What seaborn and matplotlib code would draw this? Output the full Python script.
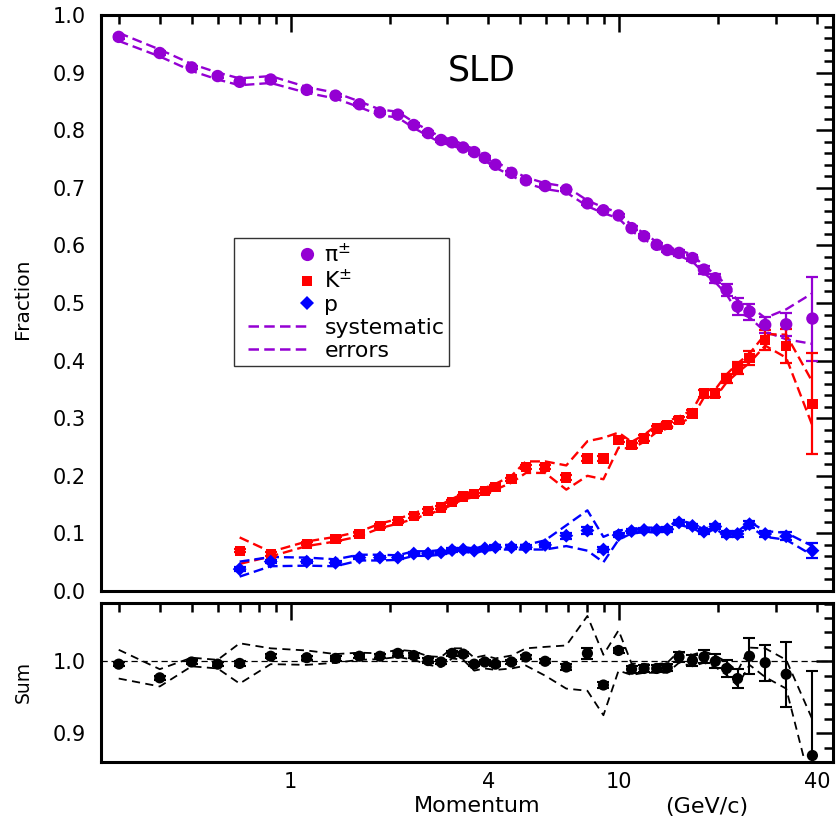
import numpy as np
import matplotlib
matplotlib.use("Agg")
import matplotlib.pyplot as plt
import seaborn as sns
from matplotlib.lines import Line2D
from matplotlib.legend_handler import HandlerBase
from matplotlib.ticker import FixedLocator, MultipleLocator, FuncFormatter, NullFormatter

# ---------------- data ----------------
momentum = [0.30, 0.40, 0.50, 0.60, 0.70, 0.87, 1.12, 1.37, 1.62, 1.87,
            2.12, 2.37, 2.62, 2.87, 3.10, 3.35, 3.62, 3.90, 4.20, 4.70,
            5.20, 5.95, 6.90, 8.00, 8.95, 9.95, 10.9, 11.9, 13.0, 14.0,
            15.2, 16.7, 18.1, 19.6, 21.2, 22.9, 24.9, 27.8, 32.2, 38.7]

pion_frac = [0.962, 0.934, 0.909, 0.894, 0.884, 0.888, 0.870, 0.860, 0.845, 0.831,
             0.827, 0.809, 0.795, 0.783, 0.779, 0.770, 0.762, 0.752, 0.740, 0.726,
             0.713, 0.703, 0.697, 0.673, 0.661, 0.652, 0.630, 0.616, 0.601, 0.592,
             0.587, 0.578, 0.558, 0.543, 0.523, 0.494, 0.485, 0.462, 0.463, 0.473]
pion_stat = [0.003] * 28 + [0.004, 0.004, 0.005, 0.005, 0.007, 0.008,
                            0.010, 0.015, 0.014, 0.014, 0.020, 0.073]
pion_sys = [0.007, 0.006, 0.006, 0.006, 0.006, 0.006, 0.005, 0.005, 0.005, 0.005,
            0.005, 0.005, 0.005, 0.005, 0.005, 0.005, 0.005, 0.005, 0.005, 0.005,
            0.005, 0.005, 0.005, 0.005, 0.005, 0.005, 0.005, 0.005, 0.005, 0.005,
            0.005, 0.006, 0.006, 0.007, 0.008, 0.010, 0.010, 0.012, 0.026, 0.044]

# kaons and protons start at the 0.70 GeV/c bin
kaon_mom = momentum[4:]
kaon_frac = [0.070, 0.064, 0.082, 0.090, 0.099, 0.113,
             0.121, 0.130, 0.139, 0.145, 0.155, 0.164,
             0.168, 0.174, 0.181, 0.194, 0.215, 0.215,
             0.197, 0.230, 0.230, 0.262, 0.253, 0.265,
             0.282, 0.288, 0.297, 0.308, 0.343, 0.343,
             0.369, 0.387, 0.404, 0.436, 0.425, 0.325]
kaon_stat = [0.003] * 18 + [0.004, 0.005, 0.004, 0.004, 0.004, 0.005,
                            0.005, 0.005, 0.005, 0.006, 0.006, 0.006,
                            0.008, 0.010, 0.012, 0.017, 0.029, 0.088]
kaon_sys = [0.023, 0.004, 0.004, 0.004, 0.004, 0.004,
            0.004, 0.005, 0.005, 0.005, 0.005, 0.005,
            0.005, 0.005, 0.005, 0.006, 0.010, 0.010,
            0.021, 0.030, 0.036, 0.013, 0.006, 0.006,
            0.006, 0.006, 0.006, 0.006, 0.007, 0.007,
            0.007, 0.008, 0.008, 0.010, 0.020, 0.038]

proton_mom = momentum[4:]
proton_frac = [0.038, 0.051, 0.051, 0.049, 0.058, 0.058,
               0.058, 0.065, 0.065, 0.067, 0.071, 0.072,
               0.070, 0.074, 0.076, 0.076, 0.076, 0.080,
               0.096, 0.105, 0.072, 0.097, 0.104, 0.106,
               0.106, 0.107, 0.119, 0.113, 0.103, 0.112,
               0.099, 0.099, 0.116, 0.099, 0.095, 0.070]
proton_stat = [0.003] * 18 + [0.005, 0.006, 0.005, 0.004] + [0.004] * 8 + \
              [0.005, 0.005, 0.006, 0.006, 0.007, 0.013]
proton_sys = [0.013, 0.008, 0.007, 0.006, 0.005, 0.005] + [0.004] * 11 + \
             [0.008, 0.018, 0.035, 0.022, 0.008] + [0.004] * 11 + [0.005, 0.006, 0.008]

sum_frac = [0.996, 0.977, 0.999, 0.996, 0.997, 1.007, 1.005, 1.004, 1.007, 1.007,
            1.011, 1.008, 1.001, 0.999, 1.011, 1.010, 0.996, 0.999, 0.996, 0.999,
            1.006, 1.000, 0.992, 1.011, 0.967, 1.015, 0.989, 0.990, 0.990, 0.991,
            1.006, 1.001, 1.006, 1.000, 0.990, 0.976, 1.007, 0.998, 0.982, 0.869]
sum_stat = [0.003] * 22 + [0.004, 0.008, 0.004, 0.004, 0.005, 0.005, 0.005, 0.005,
                           0.007, 0.008, 0.009, 0.010, 0.012, 0.013, 0.025, 0.025,
                           0.045, 0.118]
sum_sys = [0.020, 0.012, 0.006, 0.006, 0.028, 0.011, 0.010, 0.006, 0.005, 0.004,
           0.005, 0.006, 0.006, 0.007, 0.007, 0.008, 0.009, 0.009, 0.008, 0.009,
           0.012, 0.020, 0.030, 0.052, 0.042, 0.028, 0.008, 0.006, 0.006, 0.007,
           0.008, 0.008, 0.008, 0.008, 0.009, 0.010, 0.012, 0.020, 0.020, 0.050]

legend_labels = ["π$^{\\pm}$", "K$^{\\pm}$", "p", "systematic", "errors"]
x_major_ticks = [1, 10]
x_minor_ticks = [0.3, 0.4, 0.5, 0.6, 0.7, 0.8, 0.9, 2, 3, 4, 5, 6, 7, 8, 9, 20, 30, 40]
x_minor_labelled = [4, 40]

PURPLE = "#9400D3"
RED = "#FF0000"
BLUE = "#0000FF"

# ---------------- style ----------------
sns.set_theme(style="white")
plt.rcParams["font.family"] = ["DejaVu Sans"]
plt.rcParams["mathtext.fontset"] = "dejavusans"
plt.rcParams["axes.edgecolor"] = "black"
plt.rcParams["text.color"] = "black"

fig = plt.figure(figsize=(8.36, 8.19), dpi=100)
W, H = 836.0, 819.0
ax1 = fig.add_axes([101 / W, 1 - 591 / H, 732 / W, 576 / H])
ax2 = fig.add_axes([101 / W, 1 - 762 / H, 732 / W, (762 - 603) / H])

for ax in (ax1, ax2):
    ax.set_xscale("log")
    ax.set_xlim(0.265, 44.7)

DASH = (0, (4.2, 2.1))


def draw_species(ax, x, y, stat, sys, color, marker, size, lw=1.7, dash=DASH, elw=1.6):
    y = np.asarray(y, float)
    sys = np.asarray(sys, float)
    for band in (y + sys, y - sys):
        sns.lineplot(x=x, y=band, ax=ax, color=color, lw=lw, linestyle=dash,
                     estimator=None, sort=False, legend=False, zorder=2)
    ax.errorbar(x, y, yerr=stat, fmt="none", ecolor=color, elinewidth=elw,
                capsize=4.5, capthick=elw, zorder=3)
    sns.scatterplot(x=x, y=y, ax=ax, color=color, marker=marker, s=size,
                    edgecolor="none", linewidth=0, legend=False, zorder=4)


draw_species(ax1, momentum, pion_frac, pion_stat, pion_sys, PURPLE, "o", 80)
draw_species(ax1, kaon_mom, kaon_frac, kaon_stat, kaon_sys, RED, "s", 55)
draw_species(ax1, proton_mom, proton_frac, proton_stat, proton_sys, BLUE, "D", 50)

ax2.axhline(1.0, color="black", lw=0.9, linestyle=(0, (5, 3)), zorder=1)
draw_species(ax2, momentum, sum_frac, sum_stat, sum_sys, "black", "o", 65,
             lw=1.3, dash=(0, (4.5, 3.0)), elw=1.5)

ax1.set_ylim(0, 1.0)
ax1.yaxis.set_major_locator(MultipleLocator(0.1))
ax1.yaxis.set_minor_locator(MultipleLocator(0.02))
ax1.yaxis.set_major_formatter(FuncFormatter(lambda v, p: f"{v:.1f}"))

ax2.set_ylim(0.86, 1.081)
ax2.yaxis.set_major_locator(FixedLocator([0.9, 1.0]))
ax2.yaxis.set_minor_locator(FixedLocator([0.86, 0.88, 0.92, 0.94, 0.96, 0.98, 1.02, 1.04, 1.06, 1.08]))
ax2.yaxis.set_major_formatter(FuncFormatter(lambda v, p: f"{v:.1f}"))

for ax in (ax1, ax2):
    ax.xaxis.set_major_locator(FixedLocator(x_major_ticks))
    ax.xaxis.set_minor_locator(FixedLocator(x_minor_ticks))
    ax.set_xlabel("")
    ax.set_ylabel("")
    for s in ax.spines.values():
        s.set_linewidth(2.2)
        s.set_color("black")
    ax.tick_params(which="both", direction="in", top=True, right=True,
                   width=1.8, color="black", labelsize=15, labelcolor="black")
    ax.tick_params(which="major", length=12)
    ax.tick_params(which="minor", length=6.5)
    ax.tick_params(axis="y", which="both", pad=11)
    ax.tick_params(axis="x", which="both", pad=7)

ax1.xaxis.set_major_formatter(NullFormatter())
ax1.xaxis.set_minor_formatter(NullFormatter())
ax2.xaxis.set_major_formatter(FuncFormatter(lambda v, p: f"{v:g}"))
ax2.xaxis.set_minor_formatter(FuncFormatter(
    lambda v, p: f"{v:g}" if any(abs(v - t) < 1e-6 for t in x_minor_labelled) else ""))


# legend: dashed samples start after a small gap, markers sit at the right end
class RightMarker(HandlerBase):
    def create_artists(self, legend, orig_handle, xdescent, ydescent,
                       width, height, fontsize, trans):
        y = (height - ydescent) / 2
        x = -xdescent + width - 1.5
        art = Line2D([x], [y], ls="none", marker=orig_handle.get_marker(),
                     color=orig_handle.get_color(),
                     markersize=orig_handle.get_markersize(), markeredgewidth=0)
        art.set_transform(trans)
        return [art]


class GapLine(HandlerBase):
    def create_artists(self, legend, orig_handle, xdescent, ydescent,
                       width, height, fontsize, trans):
        y = (height - ydescent) / 2
        x0 = -xdescent + 0.4 * fontsize
        art = Line2D([x0, -xdescent + width], [y, y], color=orig_handle.get_color(),
                     lw=orig_handle.get_linewidth(), ls=orig_handle.get_linestyle())
        art.set_dashes(DASH[1])
        art.set_transform(trans)
        return [art]


h_pi = Line2D([], [], ls="none", marker="o", color=PURPLE, markersize=9.5)
h_k = Line2D([], [], ls="none", marker="s", color=RED, markersize=7.5)
h_p = Line2D([], [], ls="none", marker="D", color=BLUE, markersize=7.5)
h_sys = Line2D([], [], color=PURPLE, lw=1.8, ls=DASH)
h_err = Line2D([], [], color=PURPLE, lw=1.8, ls=DASH)
leg = ax1.legend([h_pi, h_k, h_p, h_sys, h_err], legend_labels,
                 handler_map={h_pi: RightMarker(), h_k: RightMarker(), h_p: RightMarker(),
                              h_sys: GapLine(), h_err: GapLine()},
                 loc="upper left", bbox_to_anchor=((234 - 101) / 732, (591 - 238) / 576),
                 borderaxespad=0, frameon=True, fancybox=False, edgecolor="#333333",
                 framealpha=1, fontsize=15.8, handlelength=3.2, handletextpad=0.7,
                 labelspacing=0.13, borderpad=0.22)
leg.get_frame().set_linewidth(1.0)

fig.text(482 / W, 1 - 80.5 / H, "SLD", fontsize=25, ha="center", va="baseline")
fig.text(23 / W, 1 - 299 / H, "Fraction", fontsize=14.5, rotation=90, ha="center", va="center")
fig.text(23 / W, 1 - 682 / H, "Sum", fontsize=13.5, rotation=90, ha="center", va="center")
fig.text(477 / W, 1 - 812.5 / H, "Momentum", fontsize=16, ha="center", va="baseline")
fig.text(707 / W, 1 - 812.5 / H, "(GeV/c)", fontsize=16, ha="center", va="baseline")

fig.savefig("out.png", dpi=100)
